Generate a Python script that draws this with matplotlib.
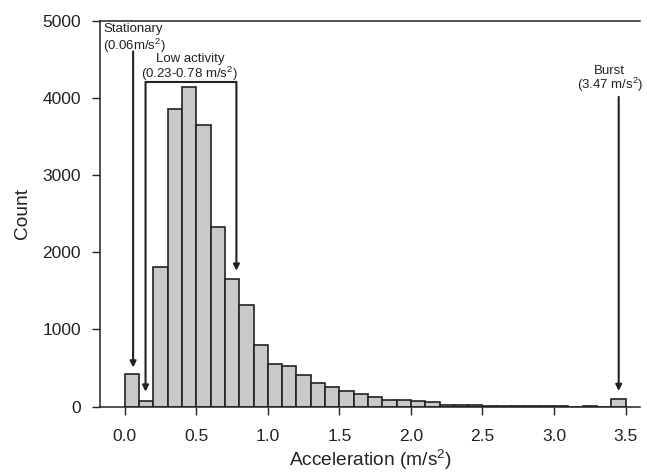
import matplotlib
matplotlib.use("Agg")
import matplotlib.pyplot as plt
import numpy as np

plt.rcParams['font.family'] = ['Liberation Sans', 'DejaVu Sans']
plt.rcParams['mathtext.default'] = 'regular'

# Histogram data (bin width 0.1 m/s^2, from 0.0 to 3.5)
bin_start = 0.0
bin_width = 0.1
counts = [415, 70, 1810, 3855, 4145, 3645, 2325, 1655, 1315, 795,
          555, 530, 405, 305, 257, 205, 165, 122, 90, 80,
          65, 54, 25, 22, 15, 9, 7, 6, 6, 5,
          5, 0, 6, 0, 98]
xticks = [0.0, 0.5, 1.0, 1.5, 2.0, 2.5, 3.0, 3.5]
yticks = [0, 1000, 2000, 3000, 4000, 5000]

# Annotation values
stationary_x = 0.058
low_left_x, low_right_x = 0.145, 0.78
burst_x = 3.452

dark = '#222222'
fig = plt.figure(figsize=(6.47, 4.74), dpi=100)
ax = fig.add_axes([0.1553, 0.1424, 0.989 - 0.1553, 0.9563 - 0.1424])

lefts = bin_start + bin_width * np.arange(len(counts))
ax.bar(lefts, counts, width=bin_width, align='edge', color='#c8c9cb',
       edgecolor=dark, linewidth=1.2)

ax.set_xlim(-0.17, 3.6)
ax.set_ylim(0, 5000)
ax.set_xticks(xticks)
ax.set_xticklabels([f"{t:.1f}" for t in xticks])
ax.set_yticks(yticks)
ax.tick_params(direction='out', length=5.5, width=1, colors=dark,
               labelsize=12.5)
ax.tick_params(axis='x', pad=10.5)
ax.tick_params(axis='y', pad=8.5)
for s in ['left', 'bottom', 'top']:
    ax.spines[s].set_color(dark)
    ax.spines[s].set_linewidth(1.1)
ax.spines['right'].set_visible(False)

ax.set_xlabel('Acceleration (m/s$^{2}$)', fontsize=13.8, color=dark, labelpad=3)
ax.set_ylabel('Count', fontsize=13.8, color=dark, labelpad=8)

arrow_kw = dict(arrowstyle='-|>', lw=1.5, color=dark, mutation_scale=9,
                shrinkA=0, shrinkB=0)
fs = 9.5

# Stationary
ax.text(-0.152, 4890, 'Stationary', fontsize=fs, ha='left', va='center', color=dark)
ax.text(-0.152, 4670, '(0.06m/s$^{2}$)', fontsize=fs, ha='left', va='center', color=dark)
ax.annotate('', xy=(stationary_x, 505), xytext=(stationary_x, 4600), arrowprops=arrow_kw)

# Low activity
ax.text(0.458, 4510, 'Low activity', fontsize=fs, ha='center', va='center', color=dark)
ax.text(0.452, 4307, '(0.23-0.78 m/s$^{2}$)', fontsize=fs, ha='center', va='center', color=dark)
ax.plot([low_left_x, low_right_x], [4207, 4207], color=dark, lw=1.5, solid_capstyle='projecting')
ax.annotate('', xy=(low_left_x, 192), xytext=(low_left_x, 4207), arrowprops=arrow_kw)
ax.annotate('', xy=(low_right_x, 1760), xytext=(low_right_x, 4207), arrowprops=arrow_kw)

# Burst
ax.text(3.39, 4350, 'Burst', fontsize=fs, ha='center', va='center', color=dark)
ax.text(3.39, 4165, '(3.47 m/s$^{2}$)', fontsize=fs, ha='center', va='center', color=dark)
ax.annotate('', xy=(burst_x, 200), xytext=(burst_x, 4013), arrowprops=arrow_kw)

fig.savefig('out.png', dpi=100)
